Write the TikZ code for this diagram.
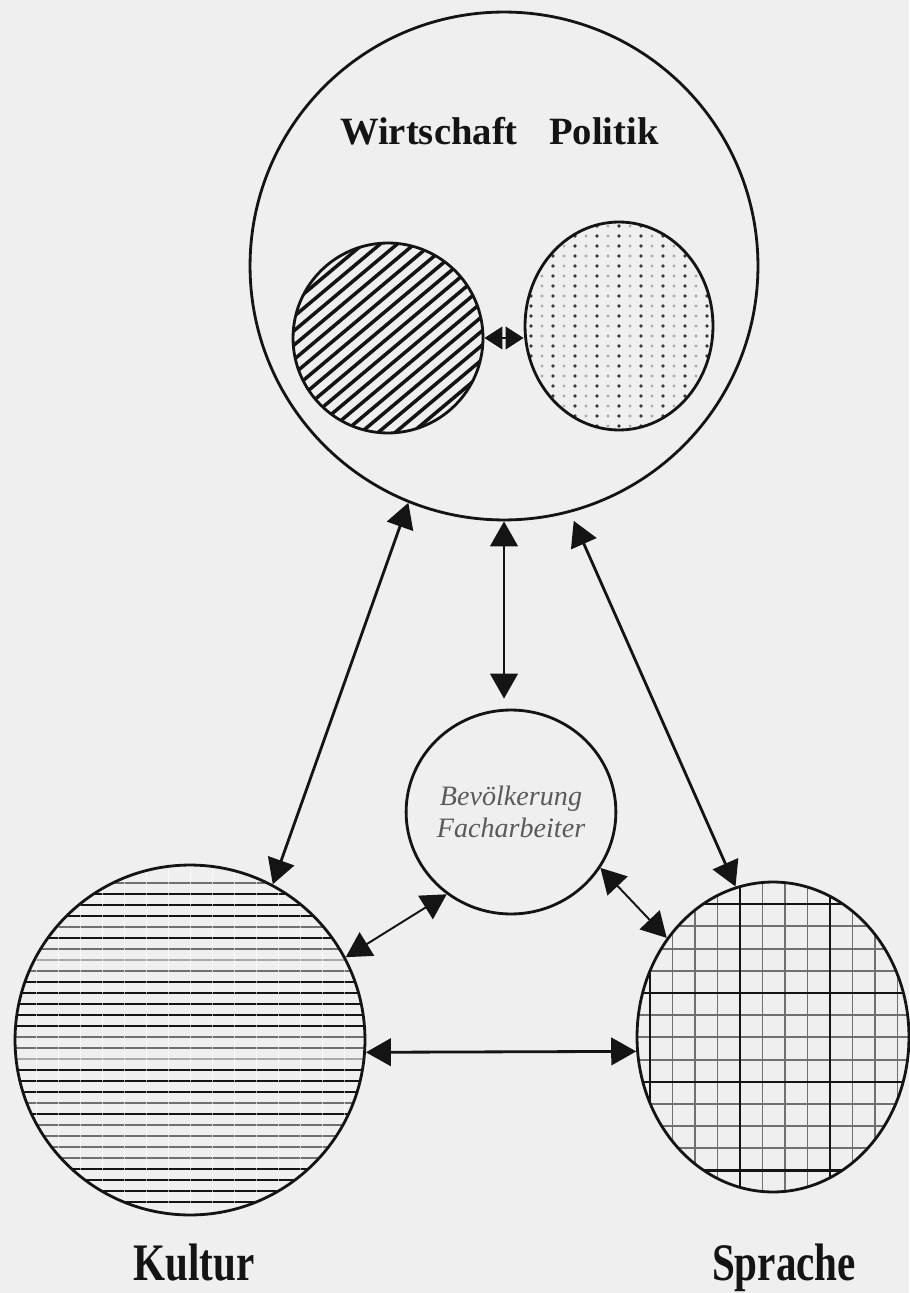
\documentclass[tikz,border=0pt]{standalone}
\usepackage{fontspec}
\usepackage{graphicx}
\setmainfont{Liberation Serif}
\usetikzlibrary{arrows.meta,shapes.geometric}
\pgfdeclarelayer{background}
\pgfsetlayers{background,main}
\definecolor{paper}{HTML}{EFEFEF}
\definecolor{ink}{HTML}{141414}
\definecolor{soft}{HTML}{707070}
\definecolor{pale}{HTML}{A8A8A8}
\definecolor{script}{HTML}{5A5A5A}
\begin{document}
\begin{tikzpicture}[x=0.02cm, y=-0.02cm,
	ring/.style={draw=ink, line width=1.6pt, inner sep=0pt},
	link/.style={{Triangle[length=0.5cm,width=0.55cm]}-{Triangle[length=0.5cm,width=0.55cm]}, draw=ink, line width=1.6pt},
	thin link/.style={link, line width=1.1pt},
	tiny link/.style={{Triangle[length=0.36cm,width=0.45cm]}-{Triangle[length=0.36cm,width=0.45cm]}, draw=ink, line width=1.4pt},
	heading/.style={anchor=base, text=ink, font=\fontsize{22}{26}\selectfont\bfseries},
	foot/.style={anchor=base, text=ink, font=\fontsize{30}{34}\selectfont\bfseries}]
	\useasboundingbox (0,0) rectangle (909,1293);
	\node[ring, circle, minimum size=10.16cm] (0) at (504,266) {};
	\node[ring, circle, minimum size=3.8cm] (1) at (388,338) {};
	\node[ring, ellipse, minimum width=3.76cm, minimum height=4.16cm] (2) at (619,326) {};
	\node[ring, ellipse, minimum width=3.88cm, minimum height=4.08cm, align=center, text=script, font=\fontsize{16}{18}\selectfont\itshape] (3) at (511,812) {Bevölkerung\\Facharbeiter};
	\node[ring, circle, minimum size=7cm] (4) at (190,1040) {};
	\node[ring, ellipse, minimum width=5.44cm, minimum height=6.2cm] (5) at (773,1037) {};
	\node[heading] (6) at (429,145) {Wirtschaft};
	\node[heading] (7) at (604,145) {Politik};
	\node[foot] (8) at (194,1280) {\scalebox{0.78}[1]{Kultur}};
	\node[foot] (9) at (784,1280) {\scalebox{0.78}[1]{Sprache}};
	\path
				(4.62) edge[link] (0.248)
				(0.south) edge[link, shorten >=0.2cm] (0.south |- 3.north)
				(0.285) edge[link, shorten <=0.18cm] (5.104)
				(4.356) edge[link] (5.186)
				(3.232) edge[thin link] (4.28)
				(3.328) edge[thin link] (5.137)
				(1.east) edge[tiny link] (1.east -| 2.west);
	\begin{pgfonlayer}{background}
		\fill[paper] (0,0) rectangle (909,1293);
		\begin{scope}
			\clip (1.center) circle[radius=95];
			\foreach \k in {-10,...,10}
				\draw[ink, line width=2pt] (1.center) ++({\k*11*0.643-130*0.766},{\k*11*0.766+130*0.643}) -- ++({260*0.766},{-260*0.643});
		\end{scope}
		\begin{scope}
			\clip (2.center) ellipse[x radius=94, y radius=104];
			\foreach \i in {-8,-6,...,8}
				\foreach \j in {-11,...,11}
					\fill[ink!85] (2.center) ++(\i*11,\j*10) circle[radius=1.9];
			\foreach \i in {-9,-7,...,9}
				\foreach \j in {-11,...,11}
					\fill[pale] (2.center) ++(\i*11,\j*10) circle[radius=1.7];
		\end{scope}
		\begin{scope}
			\clip (4.center) circle[radius=175];
			\foreach \c [count=\i from 0] in {soft,ink,ink,ink,soft,ink,soft,pale,soft,ink,ink,ink,ink,ink,soft,soft,pale,ink,ink,ink,soft,ink,soft,soft,soft,soft,ink,ink,ink,ink}
				\draw[\c, line width=1.6pt] (4.center) ++(-180,{-157+11*\i}) -- ++(360,0);
			\foreach \i in {-8,...,8}
				\draw[white, opacity=0.6, line width=0.5pt] (4.center) ++({\i*22},-180) -- ++(0,360);
		\end{scope}
		\begin{scope}
			\clip (5.center) ellipse[x radius=136, y radius=155];
			\foreach \k in {-7,...,8}
				\draw[soft, line width=1.1pt] (5.center) ++({-33+22.5*\k},-160) -- ++(0,320);
			\foreach \k in {-6,...,9}
				\draw[soft, line width=1.1pt] (5.center) ++(-140,{-44+22.2*\k}) -- ++(280,0);
			\foreach \k in {-4,0,4}
				\draw[ink, line width=1.4pt] (5.center) ++({-33+22.5*\k},-160) -- ++(0,320);
			\foreach \k in {-4,0,4,8}
				\draw[ink, line width=1.4pt] (5.center) ++(-140,{-44+22.2*\k}) -- ++(280,0);
		\end{scope}
	\end{pgfonlayer}
\end{tikzpicture}
\end{document}
